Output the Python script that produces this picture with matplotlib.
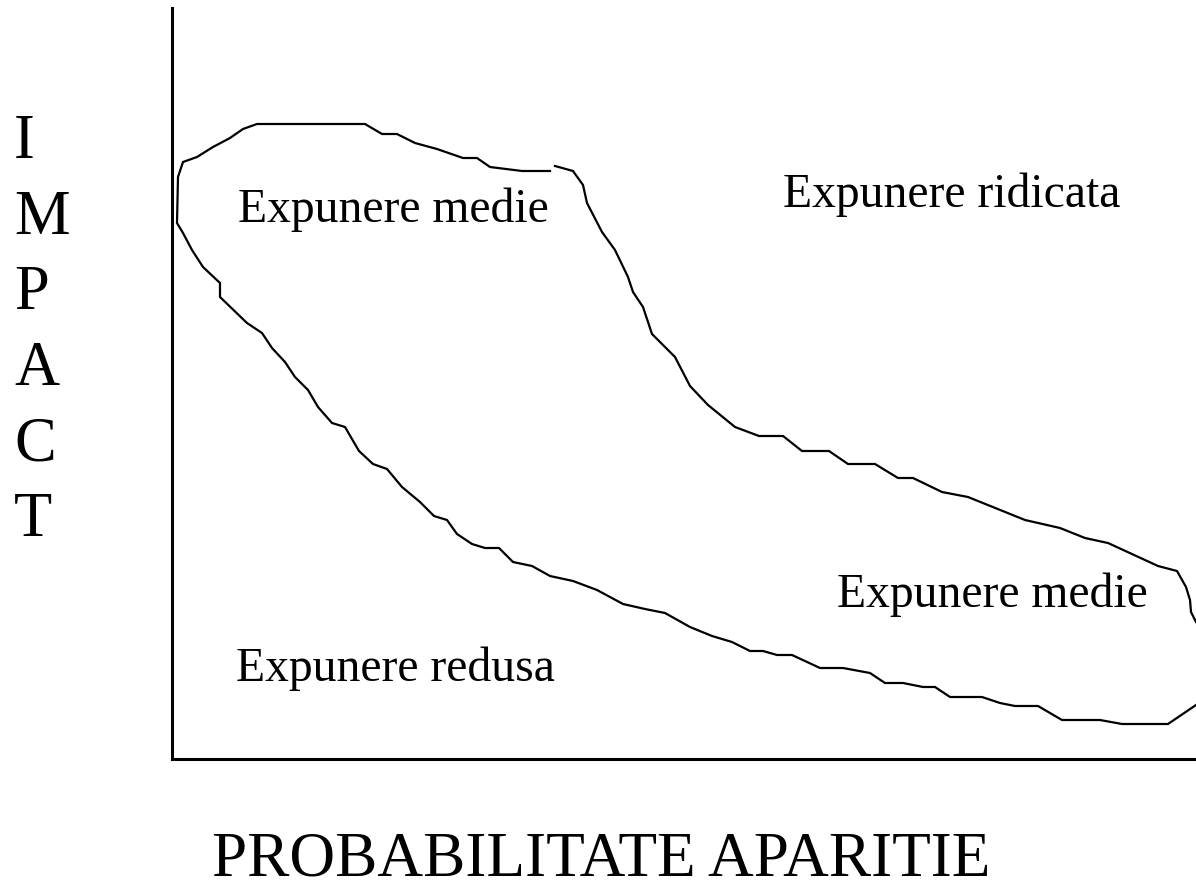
"""
Harta expunerii la risc: impact vs probabilitate de aparitie.
Contur desenat de mana care separa zonele de expunere.
"""
import matplotlib.pyplot as plt

plt.rcParams['font.family'] = ['Liberation Serif', 'DejaVu Serif']

W, H = 1196, 881

# contur exterior (pornind de la intrerupere, spre stanga, apoi in jos si spre dreapta)
x_outer = [378, 350, 318, 305, 291, 265, 243, 225, 210, 193, 85, 71, 58, 41, 25, 11,
           6, 5, 11, 20, 31, 48, 48, 75, 90, 100, 113, 123, 136, 146, 160, 173,
           187, 201, 215, 230, 248, 262, 275, 285, 300, 313, 327, 341, 360, 378,
           401, 425, 451, 473, 493, 518, 540, 560, 578, 591, 605, 620, 648, 671,
           698, 713, 731, 751, 763, 778, 810, 828, 843, 866, 890, 928, 950, 996, 1024]
y_outer = [588, 588, 592, 601, 601, 610, 616, 625, 625, 635, 635, 630, 621, 612, 602, 597,
           582, 536, 526, 509, 492, 476, 462, 436, 426, 411, 397, 382, 369, 352, 336, 332,
           308, 295, 290, 272, 257, 243, 239, 225, 215, 211, 211, 197, 193, 183,
           178, 169, 155, 150, 146, 132, 123, 117, 108, 108, 104, 104, 91, 91,
           86, 76, 76, 72, 72, 62, 62, 56, 53, 53, 39, 39, 35, 35, 54]

# contur interior (de la intrerupere spre dreapta jos)
x_inner = [383, 401, 411, 415, 430, 443, 456, 461, 471, 480, 503, 518, 536, 563, 587, 611,
           630, 657, 676, 703, 726, 741, 770, 796, 853, 888, 913, 936, 986, 1005,
           1014, 1018, 1019, 1024]
y_inner = [593, 588, 574, 556, 527, 509, 482, 467, 452, 425, 402, 373, 354, 332, 323, 323,
           308, 308, 295, 295, 281, 281, 267, 262, 239, 231, 221, 216, 193, 188,
           172, 159, 147, 137]

zone_labels = ['Expunere medie', 'Expunere ridicata', 'Expunere medie', 'Expunere redusa']
zone_x = [66, 611, 665, 64]
zone_y = [537, 552, 152, 78]

y_label = 'IMPACT'
x_label = 'PROBABILITATE APARITIE'


def fx(px):
    return px / W


def fy(py):
    return 1 - py / H


fig = plt.figure(figsize=(W / 100, H / 100), dpi=100)
ax = fig.add_axes([fx(172), fy(759), (W - 172) / W, (759 - 8) / H])

ax.plot(x_outer, y_outer, color='black', lw=1.6, solid_joinstyle='miter')
ax.plot(x_inner, y_inner, color='black', lw=1.6, solid_joinstyle='miter')

ax.set_xlim(0, 1024)
ax.set_ylim(0, 751)
ax.set_xticks([])
ax.set_yticks([])
for side in ['top', 'right']:
    ax.spines[side].set_visible(False)
for side in ['left', 'bottom']:
    ax.spines[side].set_linewidth(2.2)

for label, x, y in zip(zone_labels, zone_x, zone_y):
    ax.text(x, y, label, fontsize=34.3, ha='left', va='baseline', clip_on=False)

# eticheta verticala, litera cu litera
for i, ch in enumerate(y_label):
    fig.text(fx(14), fy(158 + i * 75.7), ch, fontsize=45, ha='left', va='baseline')

fig.text(fx(601), fy(876), x_label, fontsize=45.5, ha='center', va='baseline')

fig.savefig('out.png', dpi=100)
